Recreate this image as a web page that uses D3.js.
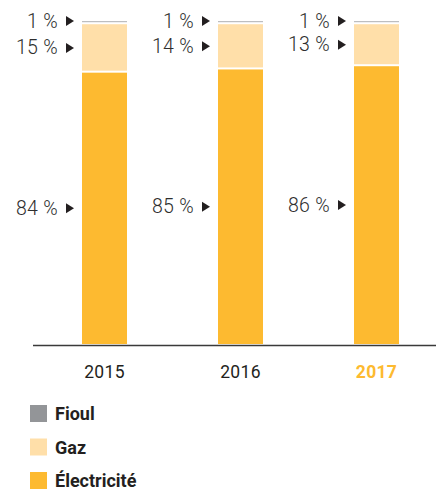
<!DOCTYPE html>
<html><head><meta charset="utf-8">
<script src="https://cdn.jsdelivr.net/npm/d3@7"></script>
<style>body{margin:0;background:#fff}svg{display:block}</style>
</head><body>
<script>
const years = ["2015", "2016", "2017"];
const fioul = [1, 1, 1];
const gaz = [15, 14, 13];
const electricite = [84, 85, 86];
const seriesNames = ["Électricité", "Gaz", "Fioul"];
const legendOrder = ["Fioul", "Gaz", "Électricité"];
const colors = {"Fioul": "#939598", "Gaz": "#FFDFA9", "Électricité": "#FDBA30"};

const W = 436, H = 490;
const svg = d3.select("body").append("svg").attr("width", W).attr("height", H);

const x = d3.scaleBand().domain(years).range([82, 399]).paddingInner(91/136).paddingOuter(0);
const y = d3.scaleLinear().domain([0, 100]).range([344, 21]);

const rows = years.map((yr, i) => ({year: yr, "Électricité": electricite[i], "Gaz": gaz[i], "Fioul": fioul[i]}));
const stacked = d3.stack().keys(seriesNames)(rows);

const gap = 2;
stacked.forEach(s => {
  const name = s.key;
  svg.append("g").selectAll("rect").data(s).join("rect")
    .attr("x", d => x(d.data.year))
    .attr("width", x.bandwidth())
    .attr("y", d => y(d[1]))
    .attr("height", d => Math.max(0.8, y(d[0]) - y(d[1]) - (name === "Électricité" ? 0 : gap)))
    .attr("fill", name === "Fioul" ? "#bdbec0" : colors[name]);

  const lg = svg.append("g");
  s.forEach(d => {
    const cy = (y(d[0]) + y(d[1])) / 2 - (name === "Fioul" ? 1.5 : 0) - (name === "Gaz" ? 0.5 : 0);
    const bx = x(d.data.year);
    lg.append("text")
      .attr("x", bx - 24).attr("y", cy)
      .attr("text-anchor", "end").attr("dominant-baseline", "central")
      .attr("font-family", "Roboto, sans-serif").attr("font-weight", 300)
      .attr("font-size", 19.5).attr("fill", "#2e2e2e")
      .attr("letter-spacing", 0.3)
      .text((d[1] - d[0]) + " %");
    lg.append("path")
      .attr("d", `M${bx - 16},${cy - 5}L${bx - 8},${cy}L${bx - 16},${cy + 5}Z`)
      .attr("fill", "#231f20");
  });
});

const axis = d3.axisBottom(x).tickSize(0).tickPadding(0);
const ag = svg.append("g").attr("transform", "translate(0,345)").call(axis);
ag.select(".domain").remove();
ag.append("line").attr("x1", 33).attr("x2", W).attr("y1", 0.5).attr("y2", 0.5)
  .attr("stroke", "#3a3a3a").attr("stroke-width", 1.3);
ag.selectAll(".tick text")
  .attr("y", 27).attr("dy", "0.35em")
  .attr("font-family", "Roboto, sans-serif")
  .attr("font-size", 17.5)
  .attr("font-weight", d => d === "2017" ? 700 : 400)
  .attr("fill", d => d === "2017" ? "#FDBA30" : "#231f20")
  .attr("letter-spacing", 0.3);

const lgd = svg.append("g");
legendOrder.forEach((name, i) => {
  const ly = 405 + i * 33.5;
  lgd.append("rect").attr("x", 30).attr("y", ly).attr("width", 17).attr("height", 17)
    .attr("fill", colors[name]);
  lgd.append("text").attr("x", 55).attr("y", ly + 8.5).attr("dominant-baseline", "central")
    .attr("font-family", "Roboto, sans-serif").attr("font-weight", 700)
    .attr("font-size", 18).attr("fill", "#231f20").text(name);
});
</script>
</body></html>
